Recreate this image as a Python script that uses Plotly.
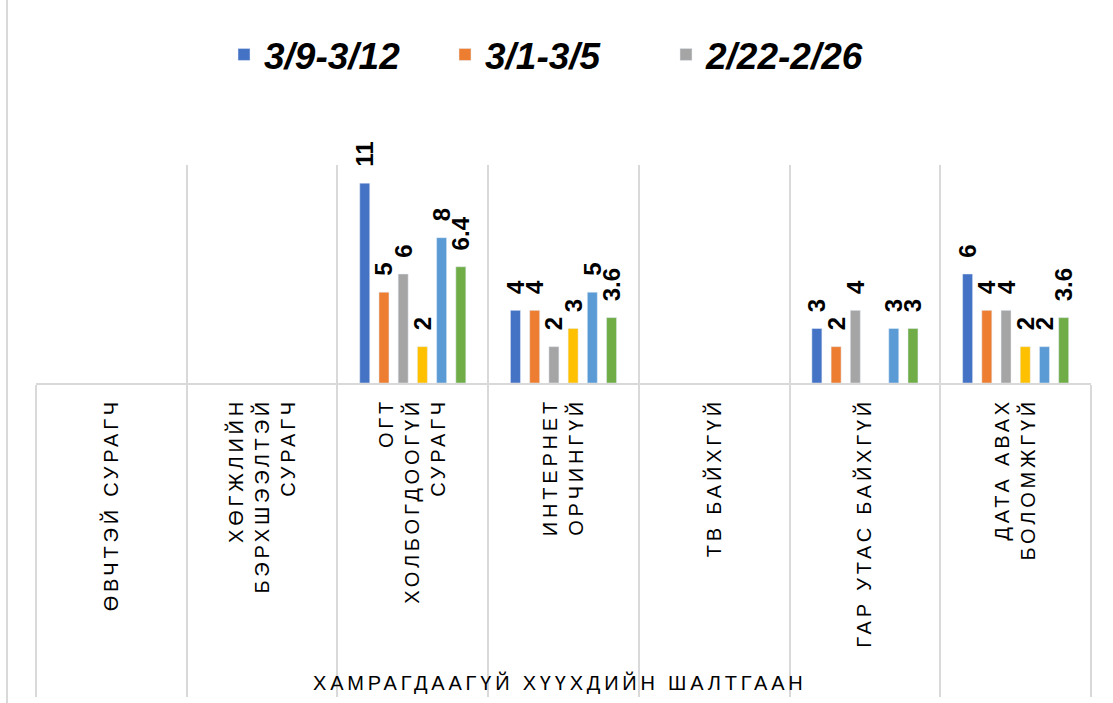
import plotly.graph_objects as go

# ---- data ----
category_lines = [
    ["ӨВЧТЭЙ СУРАГЧ"],
    ["ХӨГЖЛИЙН", "БЭРХШЭЭЛТЭЙ", "СУРАГЧ"],
    ["ОГТ", "ХОЛБОГДООГҮЙ", "СУРАГЧ"],
    ["ИНТЕРНЕТ", "ОРЧИНГҮЙ"],
    ["ТВ БАЙХГҮЙ"],
    ["ГАР УТАС БАЙХГҮЙ"],
    ["ДАТА АВАХ", "БОЛОМЖГҮЙ"],
]
categories = [" ".join(l) for l in category_lines]

series_names = ["3/9-3/12", "3/1-3/5", "2/22-2/26", "Series 4", "Series 5", "Series 6"]
s1 = [None, None, 11, 4, None, 3, 6]
s2 = [None, None, 5, 4, None, 2, 4]
s3 = [None, None, 6, 2, None, 4, 4]
s4 = [None, None, 2, 3, None, None, 2]
s5 = [None, None, 8, 5, None, 3, 2]
s6 = [None, None, 6.4, 3.6, None, 3, 3.6]
series_values = [s1, s2, s3, s4, s5, s6]
show_in_legend = [True, True, True, False, False, False]
axis_title = "ХАМРАГДААГҮЙ ХҮҮХДИЙН ШАЛТГААН"

# ---- style ----
colors = ["#4472C4", "#ED7D31", "#A5A5A5", "#FFC000", "#5B9BD5", "#70AD47"]
FONT = "Liberation Sans, Arial, sans-serif"
GRID = "#D9D9D9"
SP = "letter-spacing:3.8px"


def spaced(line):
    return f"<span style='{SP}'>{line}</span>"


ticktext = ["<br>".join(spaced(x) for x in lines) for lines in category_lines]

fig = go.Figure()
for name, vals, col, sl in zip(series_names, series_values, colors, show_in_legend):
    fig.add_trace(go.Bar(
        x=categories, y=vals, name=name, marker_color=col,
        showlegend=sl,
        texttemplate="\u00a0\u00a0%{y}",
        textposition="outside", textangle=-90,
        textfont=dict(family=FONT, size=24, color="black", weight="bold"),
        constraintext="none", cliponaxis=False,
        hoverinfo="x+y+name",
    ))

fig.update_layout(
    width=1113, height=703,
    margin=dict(l=36, r=22, t=165, b=320),
    paper_bgcolor="white", plot_bgcolor="white",
    barmode="group", bargap=0.235, bargroupgap=0.48,
    font=dict(family=FONT, color="black"),
    legend=dict(
        orientation="h", xanchor="left", x=(224 - 36) / 1055,
        yanchor="middle", y=1.505,
        font=dict(family=FONT, size=37, color="black", weight="bold", style="italic"),
        bgcolor="rgba(0,0,0,0)", itemwidth=30,
        entrywidth=176, entrywidthmode="pixels",
    ),
    xaxis=dict(
        tickmode="array", tickvals=categories, ticktext=ticktext,
        tickangle=-90, tickson="boundaries",
        ticks="outside", ticklen=312, tickwidth=2, tickcolor=GRID,
        ticklabelstandoff=5,
        tickfont=dict(family=FONT, size=20, color="black"),
        showgrid=True, gridcolor=GRID, gridwidth=2,
        showline=True, linecolor=GRID, linewidth=2,
        range=[-0.5, 6.5], automargin=False,
    ),
    yaxis=dict(
        range=[0, 12], showticklabels=False, showgrid=False, zeroline=False,
        showline=False, automargin=False,
    ),
    annotations=[dict(
        text=spaced(axis_title), xref="paper", yref="paper",
        x=(560 - 36) / 1055, y=(383 - 682) / 218, xanchor="center", yanchor="middle",
        showarrow=False, font=dict(family=FONT, size=20, color="black"),
    )],
    shapes=[dict(
        type="line", xref="paper", yref="paper",
        x0=(7 - 36) / 1055, x1=(7 - 36) / 1055,
        y0=(383 - 0) / 218, y1=(383 - 703) / 218,
        line=dict(color=GRID, width=2),
    )],
)

fig.write_html(
    "out.html",
    config={"displayModeBar": False},
    post_script="document.body.style.margin='0px';document.body.style.overflow='hidden';",
)
